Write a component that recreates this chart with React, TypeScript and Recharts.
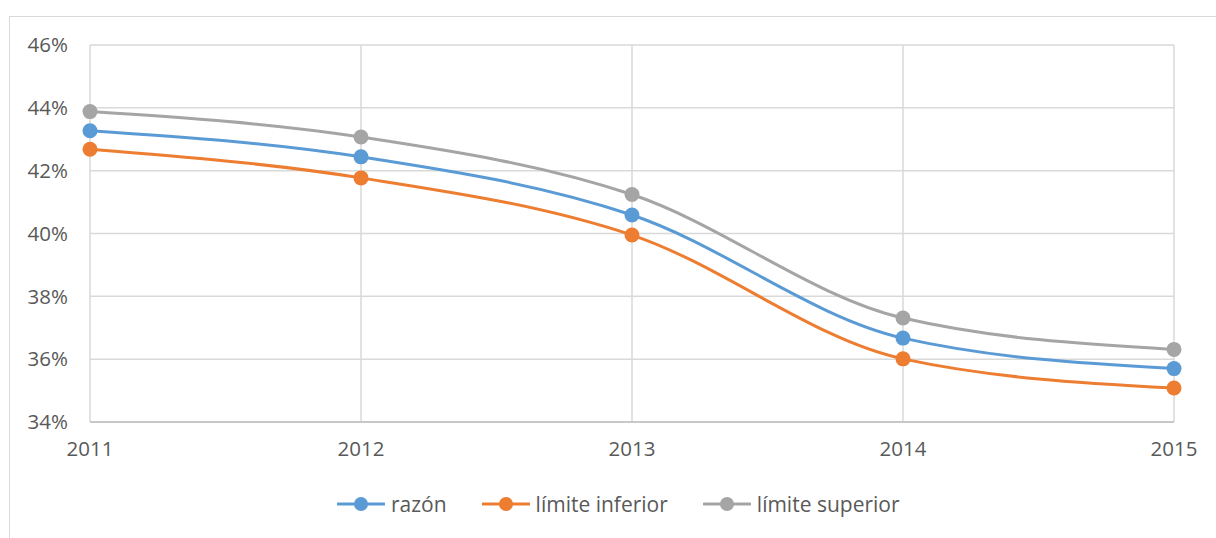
import React from "react";
import { LineChart, Line, XAxis, YAxis, CartesianGrid } from "recharts";

const years = ["2011", "2012", "2013", "2014", "2015"];
const razon = [43.27, 42.44, 40.59, 36.67, 35.7];
const limiteInferior = [42.68, 41.77, 39.95, 36.01, 35.08];
const limiteSuperior = [43.88, 43.07, 41.24, 37.31, 36.31];
const yTicks = [34, 36, 38, 40, 42, 44, 46];

const seriesNames = ["razón", "límite inferior", "límite superior"];
const seriesColors = ["#5B9BD5", "#ED7D31", "#A5A5A5"];
const seriesKeys = ["razon", "inferior", "superior"];

const data = years.map((y, i) => ({
  year: y,
  razon: razon[i],
  inferior: limiteInferior[i],
  superior: limiteSuperior[i],
}));

const FONT = "'Open Sans', sans-serif";

const LegendContent = () => (
  <div style={{ display: "flex", alignItems: "center", fontFamily: FONT, fontSize: 21, color: "#595959", whiteSpace: "nowrap" }}>
    {seriesNames.map((n, i) => (
      <div key={n} style={{ display: "flex", alignItems: "center", marginRight: i < 2 ? 35 : 0 }}>
        <svg width={48} height={16} style={{ marginRight: 6 }}>
          <line x1={1} y1={8} x2={47} y2={8} stroke={seriesColors[i]} strokeWidth={3} strokeLinecap="round" />
          <circle cx={24} cy={8} r={7} fill={seriesColors[i]} />
        </svg>
        <span>{n}</span>
      </div>
    ))}
  </div>
);

export default function App() {
  return (
    <div style={{ position: "absolute", left: 0, top: 0, width: 1216, height: 538, background: "#fff", overflow: "hidden" }}>
      <div style={{ position: "absolute", left: 9, top: 16, width: 1300, height: 600, border: "1px solid #d9d9d9", boxSizing: "border-box" }} />
      <div style={{ position: "absolute", left: 0, top: 0 }}>
        <LineChart width={1216} height={538} data={data} margin={{ top: 45, right: 42, bottom: 0, left: 10 }}>
          <CartesianGrid stroke="#d9d9d9" strokeWidth={1.5} />
          <XAxis
            dataKey="year"
            axisLine={{ stroke: "#bfbfbf", strokeWidth: 1.5 }}
            tickLine={false}
            tickSize={0}
            tickMargin={19}
            tick={{ fill: "#595959", fontSize: 20.5, fontFamily: FONT }}
            interval={0}
            height={116}
          />
          <YAxis
            width={80}
            domain={[34, 46]}
            ticks={yTicks}
            allowDataOverflow
            axisLine={false}
            tickLine={false}
            tickSize={0}
            tickMargin={22}
            tickFormatter={(v) => `${v}%`}
            tick={{ fill: "#595959", fontSize: 20.5, fontFamily: FONT }}
          />
          {seriesKeys.map((k, i) => (
            <Line
              key={k}
              dataKey={k}
              name={seriesNames[i]}
              type="monotone"
              stroke={seriesColors[i]}
              strokeWidth={3}
              dot={{ r: 7.5, fill: seriesColors[i], stroke: "none" }}
              activeDot={false}
              isAnimationActive={false}
            />
          ))}
        </LineChart>
      </div>
      <div style={{ position: "absolute", left: 337, top: 490 }}>
        <LegendContent />
      </div>
    </div>
  );
}
